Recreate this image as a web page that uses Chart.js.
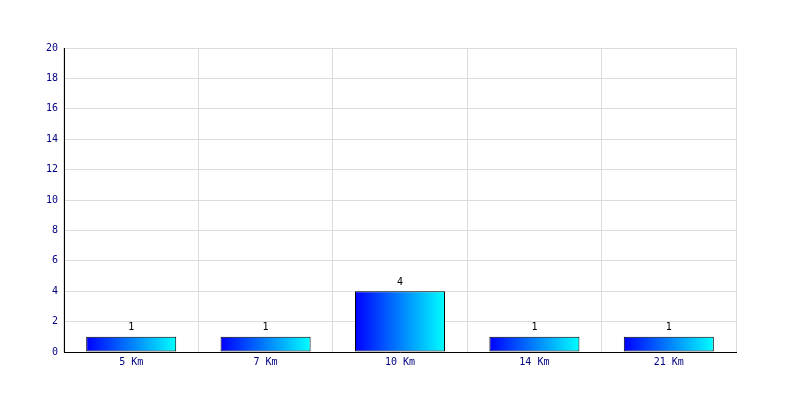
<!DOCTYPE html>
<html><head><meta charset="utf-8">
<script src="https://cdn.jsdelivr.net/npm/chart.js@4"></script>
<style>html,body{margin:0;padding:0;background:#fff}#wrap{width:800px;height:400px}</style>
</head><body><div id="wrap"><canvas id="c" width="800" height="400"></canvas></div>
<script>
const categories = ["5 Km", "7 Km", "10 Km", "14 Km", "21 Km"];
const values = [1, 1, 4, 1, 1];
const yTicks = [0, 2, 4, 6, 8, 10, 12, 14, 16, 18, 20];

const FONT = "'DejaVu Sans Mono', monospace";
const BAR_FRAC = 0.67;

function barFill(ctx) {
  const chart = ctx.chart;
  const xs = chart.scales && chart.scales.x;
  if (!xs || xs.width === undefined || ctx.dataIndex === undefined) return '#0000ff';
  const c = xs.getPixelForValue(ctx.dataIndex);
  const w = xs.width / categories.length * BAR_FRAC;
  const g = chart.ctx.createLinearGradient(c - w / 2, 0, c + w / 2, 0);
  g.addColorStop(0, '#0000ff');
  g.addColorStop(1, '#00ffff');
  return g;
}

const labelPlugin = {
  id: 'valLabels',
  afterDatasetsDraw(chart) {
    const ctx = chart.ctx;
    const meta = chart.getDatasetMeta(0);
    ctx.save();
    ctx.font = '10px ' + FONT;
    ctx.fillStyle = '#000';
    ctx.textAlign = 'center';
    ctx.textBaseline = 'bottom';
    meta.data.forEach((el, i) => {
      ctx.fillText(String(values[i]), el.x, el.y - 4);
    });
    ctx.restore();
  }
};

new Chart(document.getElementById('c'), {
  type: 'bar',
  data: {
    labels: categories,
    datasets: [{
      data: values,
      backgroundColor: barFill,
      borderColor: '#000',
      borderWidth: 1,
      borderSkipped: false,
      categoryPercentage: BAR_FRAC,
      barPercentage: 1.0
    }]
  },
  options: {
    responsive: false,
    animation: false,
    devicePixelRatio: 1,
    layout: { padding: { left: 0, right: 64, top: 48, bottom: 0 } },
    plugins: { legend: { display: false }, tooltip: { enabled: false } },
    scales: {
      x: {
        grid: { color: '#dcdcdc', offset: true, drawTicks: false },
        border: { color: '#000', width: 1 },
        ticks: { color: '#000080', font: { family: FONT, size: 10 }, padding: 4, maxRotation: 0 },
        afterFit(s) { s.height = 48; }
      },
      y: {
        min: 0, max: 20,
        afterBuildTicks(s) { s.ticks = yTicks.map(v => ({ value: v })); },
        grid: { color: '#dcdcdc', drawTicks: false },
        border: { color: '#000', width: 1 },
        ticks: { color: '#000080', font: { family: FONT, size: 10 }, padding: 6 },
        afterFit(s) { s.width = 64; }
      }
    }
  },
  plugins: [labelPlugin]
});
</script>
</body></html>
